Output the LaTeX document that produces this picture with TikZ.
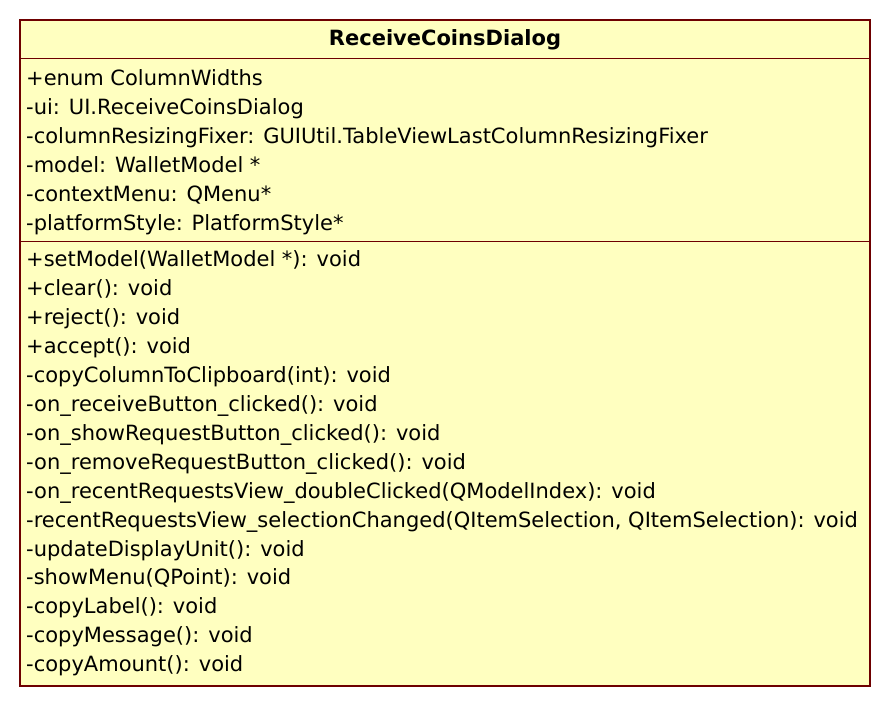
\documentclass[tikz,border=0pt]{standalone}
\usepackage{fontspec}
\setmainfont{DejaVu Sans}
\usepackage{tikz}
\definecolor{umlfill}{RGB}{255,255,192}
\definecolor{umlline}{RGB}{110,0,0}
\tikzset{member/.style={anchor=base west, inner sep=0pt, font=\fontsize{21}{29}\selectfont}}
\tikzset{classname/.style={anchor=base, inner sep=0pt, font=\fontsize{21}{29}\selectfont\bfseries}}
\tikzset{umlbox/.style={draw=umlline, line width=1.5pt}}

\begin{document}
\begin{tikzpicture}[x=1pt, y=-1pt]
      \useasboundingbox (0,0) rectangle (891,707);
      \draw[umlbox, fill=umlfill] (20,20) rectangle (870,686);
      \draw[umlbox] (20,58.5) -- (870,58.5);
      \draw[umlbox] (20,241.5) -- (870,241.5);

      \node[classname] (cls) at (445,45.5) {ReceiveCoinsDialog};

      % attributes
      \foreach \txt [count=\i] in {
        {+enum ColumnWidths},
        {-ui: UI.ReceiveCoinsDialog},
        {-columnResizingFixer: GUIUtil.TableViewLastColumnResizingFixer},
        {-model: WalletModel *},
        {-contextMenu: QMenu*},
        {-platformStyle: PlatformStyle*}}
        \node[member] (attr\i) at (26, {85+29*(\i-1)}) {\txt};

      % operations
      \foreach \txt [count=\i] in {
        {+setModel(WalletModel *): void},
        {+clear(): void},
        {+reject(): void},
        {+accept(): void},
        {-copyColumnToClipboard(int): void},
        {-on\_receiveButton\_clicked(): void},
        {-on\_showRequestButton\_clicked(): void},
        {-on\_removeRequestButton\_clicked(): void},
        {-on\_recentRequestsView\_doubleClicked(QModelIndex): void},
        {-recentRequestsView\_selectionChanged(QItemSelection, QItemSelection): void},
        {-updateDisplayUnit(): void},
        {-showMenu(QPoint): void},
        {-copyLabel(): void},
        {-copyMessage(): void},
        {-copyAmount(): void}}
        \node[member] (op\i) at (26, {266.5+28.95*(\i-1)}) {\txt};
\end{tikzpicture}
\end{document}
